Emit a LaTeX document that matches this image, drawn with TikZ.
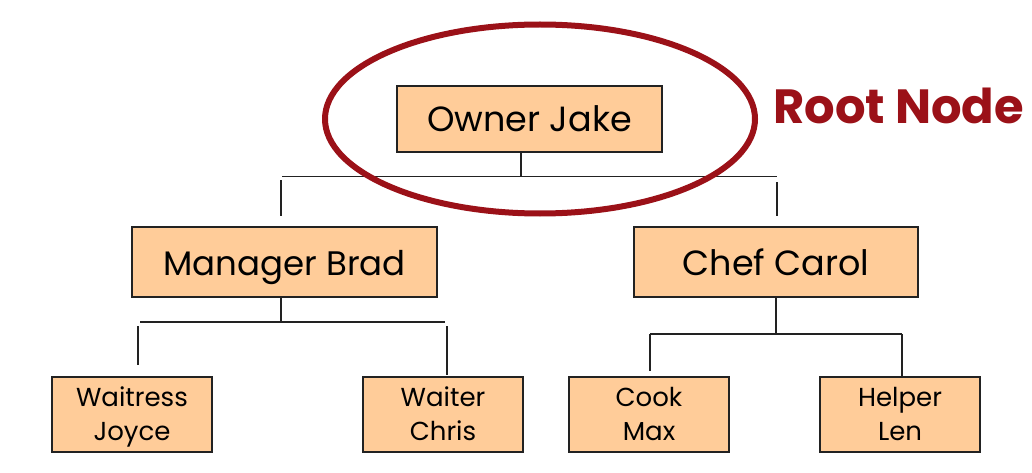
\documentclass[tikz,border=0pt]{standalone}
\usepackage{fontspec}
\setmainfont{Poppins}
\usetikzlibrary{shapes.geometric}
\definecolor{boxfill}{HTML}{FFCC99}
\definecolor{boxline}{HTML}{222222}
\definecolor{rootred}{HTML}{9B1118}
\newcommand\leaftext[2]{\rule{0pt}{25pt}#1\\#2\rule[-7pt]{0pt}{7pt}}
\begin{document}
\begin{tikzpicture}[x=1pt,y=-1pt,
  emp/.style={draw=boxline,line width=1.8pt,fill=boxfill,inner sep=0pt,anchor=center},
  bigbox/.style={emp,text height=26pt,text depth=0pt,font=\fontsize{35}{40}\selectfont},
  leafbox/.style={emp,minimum width=160pt,minimum height=75pt,align=center,font=\fontsize{26}{34}\selectfont},
  conn/.style={draw=boxline,line width=1.6pt}]
\useasboundingbox (0,0) rectangle (1032,473);
\node[bigbox,minimum width=265pt,minimum height=66pt] (oj) at (529.5,119) {Owner Jake};
\node[bigbox,minimum width=305pt,minimum height=70pt,font=\fontsize{34}{40}\selectfont] (mb) at (284.5,262) {Manager Brad};
\node[bigbox,minimum width=284pt,minimum height=70pt] (cc) at (776,262) {Chef Carol};
\node[leafbox] (wj) at (132,414.5) {\leaftext{Waitress}{Joyce}};
\node[leafbox] (wc) at (443,414.5) {\leaftext{Waiter}{Chris}};
\node[leafbox] (cm) at (649,414.5) {\leaftext{Cook}{Max}};
\node[leafbox] (hl) at (900,414.5) {\leaftext{Helper}{Len}};
% Owner connectors
\coordinate (ojb) at (521,176.5);
\coordinate (ojl) at (282,176.5);
\coordinate (ojr) at (777,176.5);
\draw[conn] (oj.south -| ojb) -- (ojb);
\draw[conn] (ojl) -- (ojr);
\coordinate (mbt) at (281,216);
\coordinate (mbu) at (281,180);
\coordinate (cct) at (777,216);
\coordinate (ccu) at (777,182);
\draw[conn] (mbu) -- (mbt);
\draw[conn] (ccu) -- (cct);
% Manager connectors
\coordinate (mbb) at (281,322);
\coordinate (mbl) at (140,322);
\coordinate (mbr) at (445,322);
\draw[conn] (mb.south -| mbb) -- (mbb);
\draw[conn] (mbl) -- (mbr);
\coordinate (wju) at (138,326);
\coordinate (wjt) at (138,365);
\coordinate (wcu) at (447,326);
\coordinate (wct) at (447,375);
\draw[conn] (wju) -- (wjt);
\draw[conn] (wcu) -- (wct);
% Chef connectors
\coordinate (ccb) at (776,334);
\coordinate (ccl) at (650,334);
\coordinate (ccr) at (902,334);
\draw[conn] (cc.south -| ccb) -- (ccb);
\draw[conn] (ccl) -- (ccr);
\coordinate (cmt) at (650,371);
\coordinate (hlt) at (902,376);
\draw[conn] (ccl) -- (cmt);
\draw[conn] (ccr) -- (hlt);
% Root highlight
\node[draw=rootred,line width=6pt,ellipse,minimum width=430pt,minimum height=189pt,inner sep=0pt] (ring) at (540,119) {};
\node[text=rootred,font=\fontsize{48}{54}\selectfont\bfseries,anchor=west,inner sep=0pt] (rn) at (773,106) {Root Node};
\end{tikzpicture}
\end{document}
